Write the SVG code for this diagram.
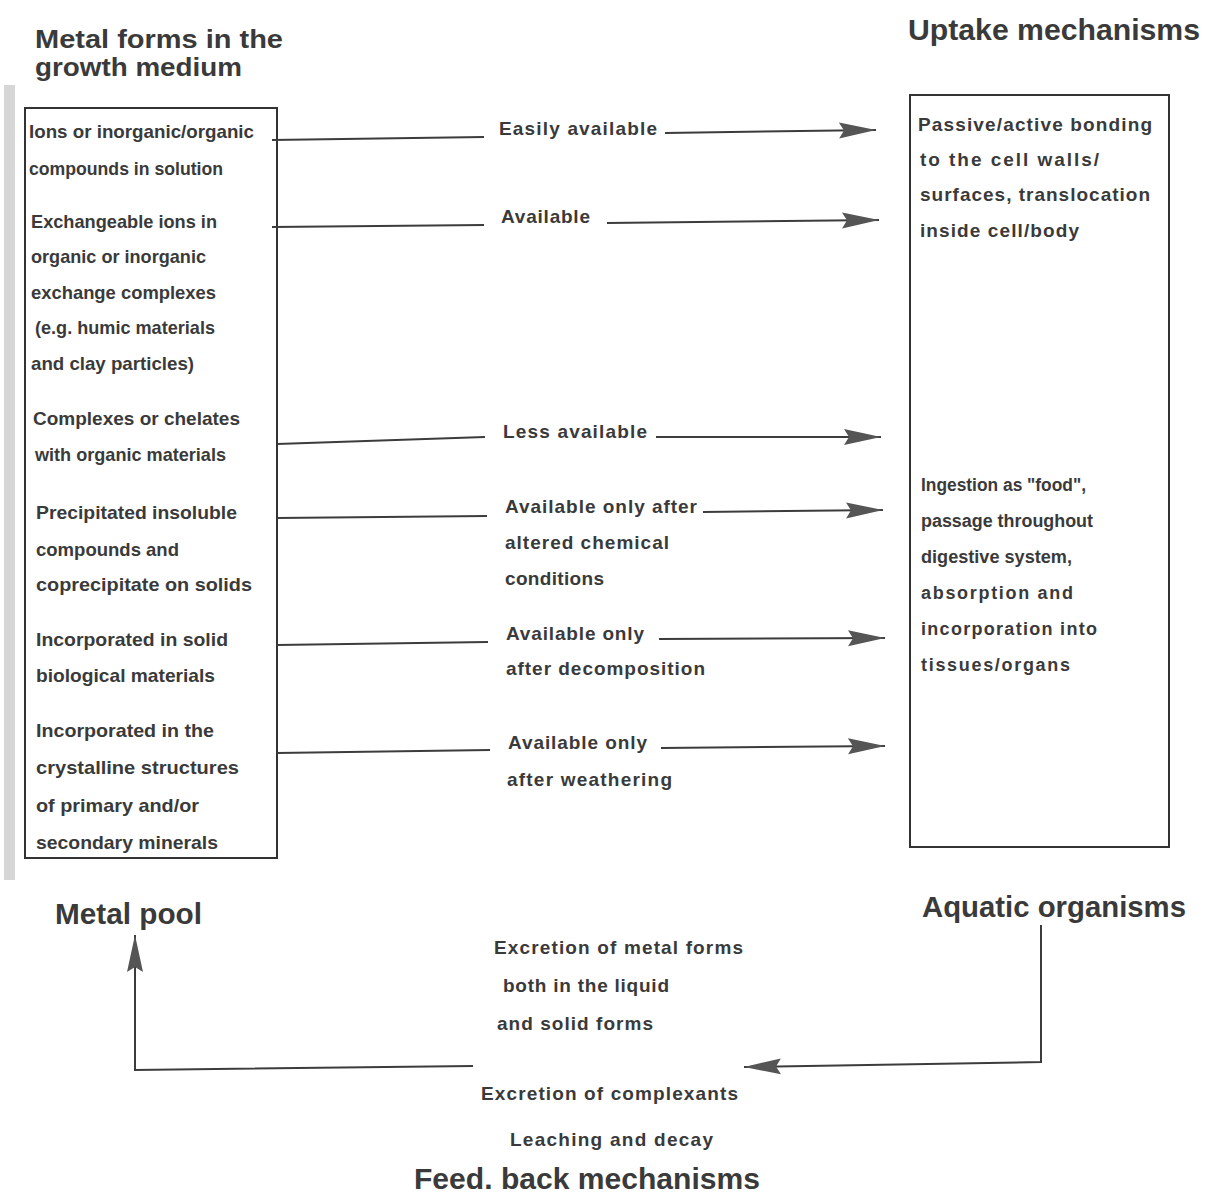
<svg xmlns="http://www.w3.org/2000/svg" width="1213" height="1195" viewBox="0 0 1213 1195">
<style>
text{font-family:"Liberation Sans",Arial,sans-serif;font-weight:bold;fill:#3a3a3a}
.h{font-size:30px}
.t{font-size:26px}
.b{font-size:19px}
.s{font-size:18px}
.c{font-size:19px}
.box{fill:none;stroke:#333;stroke-width:2}
.ln{fill:none;stroke:#3c3c3c;stroke-width:2}
</style>
<defs>
<marker id="ah" viewBox="0 0 38 20" refX="37" refY="10" markerWidth="38" markerHeight="20" markerUnits="userSpaceOnUse" orient="auto">
<path d="M0,2 L37,10 L0,18 L5,10 Z" fill="#555"/>
</marker>
</defs>
<rect x="4" y="85" width="11" height="795" fill="#d6d6d6"/>
<g id="title-left"><text class="t" x="35" y="48" textLength="248" lengthAdjust="spacingAndGlyphs">Metal forms in the</text><text class="t" x="35" y="76" textLength="207" lengthAdjust="spacingAndGlyphs">growth medium</text></g>
<g id="title-right"><text class="h" x="908" y="40" textLength="292" lengthAdjust="spacingAndGlyphs">Uptake mechanisms</text></g>
<g id="metal-forms">
<rect class="box" x="25" y="108" width="252" height="750"/>
<text class="b" x="29" y="138" textLength="225" lengthAdjust="spacingAndGlyphs">Ions or inorganic/organic</text>
<text class="b" x="29" y="175" textLength="194" lengthAdjust="spacingAndGlyphs">compounds in solution</text>
<text class="b" x="31" y="228" textLength="186" lengthAdjust="spacingAndGlyphs">Exchangeable ions in</text>
<text class="b" x="31" y="263" textLength="175" lengthAdjust="spacingAndGlyphs">organic or inorganic</text>
<text class="b" x="31" y="299" textLength="185" lengthAdjust="spacingAndGlyphs">exchange complexes</text>
<text class="b" x="35" y="334" textLength="180" lengthAdjust="spacingAndGlyphs">(e.g. humic materials</text>
<text class="b" x="31" y="370" textLength="163" lengthAdjust="spacingAndGlyphs">and clay particles)</text>
<text class="b" x="33" y="425" textLength="207" lengthAdjust="spacingAndGlyphs">Complexes or chelates</text>
<text class="b" x="35" y="461" textLength="191" lengthAdjust="spacingAndGlyphs">with organic materials</text>
<text class="b" x="36" y="519" textLength="201" lengthAdjust="spacingAndGlyphs">Precipitated insoluble</text>
<text class="b" x="36" y="556" textLength="143" lengthAdjust="spacingAndGlyphs">compounds and</text>
<text class="b" x="36" y="591" textLength="216" lengthAdjust="spacingAndGlyphs">coprecipitate on solids</text>
<text class="b" x="36" y="646" textLength="192" lengthAdjust="spacingAndGlyphs">Incorporated in solid</text>
<text class="b" x="36" y="682" textLength="179" lengthAdjust="spacingAndGlyphs">biological materials</text>
<text class="b" x="36" y="737" textLength="178" lengthAdjust="spacingAndGlyphs">Incorporated in the</text>
<text class="b" x="36" y="774" textLength="203" lengthAdjust="spacingAndGlyphs">crystalline structures</text>
<text class="b" x="36" y="812" textLength="163" lengthAdjust="spacingAndGlyphs">of primary and/or</text>
<text class="b" x="36" y="849" textLength="182" lengthAdjust="spacingAndGlyphs">secondary minerals</text>
</g>
<g id="uptake">
<rect class="box" x="910" y="95" width="259" height="752"/>
<text class="b" x="918" y="131" textLength="234">Passive/active bonding</text>
<text class="b" x="920" y="166" textLength="179">to the cell walls/</text>
<text class="b" x="920" y="201" textLength="230">surfaces, translocation</text>
<text class="b" x="920" y="237" textLength="159">inside cell/body</text>
<text class="s" x="921" y="491" textLength="165" lengthAdjust="spacingAndGlyphs">Ingestion as "food",</text>
<text class="s" x="921" y="527" textLength="172" lengthAdjust="spacingAndGlyphs">passage throughout</text>
<text class="s" x="921" y="563" textLength="151" lengthAdjust="spacingAndGlyphs">digestive system,</text>
<text class="s" x="921" y="599" textLength="152">absorption and</text>
<text class="s" x="921" y="635" textLength="176">incorporation into</text>
<text class="s" x="921" y="671" textLength="149">tissues/organs</text>
</g>
<g id="metal-pool"><text class="h" x="55" y="924" textLength="147" lengthAdjust="spacingAndGlyphs">Metal pool</text></g>
<g id="aquatic"><text class="h" x="922" y="917" textLength="264" lengthAdjust="spacingAndGlyphs">Aquatic organisms</text></g>
<g id="feedback">
<text class="c" x="494" y="954" textLength="249">Excretion of metal forms</text>
<text class="c" x="503" y="992" textLength="166">both in the liquid</text>
<text class="c" x="497" y="1030" textLength="156">and solid forms</text>
<text class="c" x="481" y="1100" textLength="257">Excretion of complexants</text>
<text class="c" x="510" y="1146" textLength="203">Leaching and decay</text>
<text class="h" x="414" y="1189" textLength="346" lengthAdjust="spacingAndGlyphs">Feed. back mechanisms</text>
</g>
<g id="connectors">
<line class="ln" x1="272" y1="140" x2="484" y2="137"/>
<text class="b" x="499" y="135" textLength="158">Easily available</text>
<line class="ln" x1="665" y1="133" x2="876" y2="130" marker-end="url(#ah)"/>
<line class="ln" x1="272" y1="227" x2="484" y2="225"/>
<text class="b" x="501" y="223" textLength="89">Available</text>
<line class="ln" x1="607" y1="223" x2="879" y2="220" marker-end="url(#ah)"/>
<line class="ln" x1="277" y1="444" x2="485" y2="437"/>
<text class="b" x="503" y="438" textLength="144">Less available</text>
<line class="ln" x1="656" y1="437" x2="881" y2="437" marker-end="url(#ah)"/>
<line class="ln" x1="277" y1="518" x2="487" y2="516"/>
<text class="b" x="505" y="513" textLength="192">Available only after</text>
<text class="b" x="505" y="549" textLength="164">altered chemical</text>
<text class="b" x="505" y="585" textLength="99">conditions</text>
<line class="ln" x1="703" y1="512" x2="883" y2="510" marker-end="url(#ah)"/>
<line class="ln" x1="277" y1="645" x2="488" y2="642"/>
<text class="b" x="506" y="640" textLength="138">Available only</text>
<text class="b" x="506" y="675" textLength="199">after decomposition</text>
<line class="ln" x1="659" y1="639" x2="885" y2="638" marker-end="url(#ah)"/>
<line class="ln" x1="277" y1="753" x2="490" y2="750"/>
<text class="b" x="508" y="749" textLength="139">Available only</text>
<text class="b" x="507" y="786" textLength="165">after weathering</text>
<line class="ln" x1="661" y1="748" x2="885" y2="746" marker-end="url(#ah)"/>
<polyline class="ln" points="1041,925 1041,1062 744,1067" marker-end="url(#ah)"/>
<polyline class="ln" points="473,1066 135,1070 135,935" marker-end="url(#ah)"/>
</g>
</svg>
